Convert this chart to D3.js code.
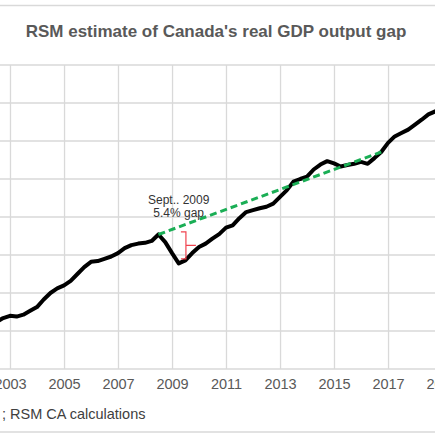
<!DOCTYPE html>
<html>
<head>
<meta charset="utf-8">
<script src="https://cdn.jsdelivr.net/npm/d3@7"></script>
<style>
  html, body { margin: 0; padding: 0; background: #fff; }
  svg { display: block; font-family: "Liberation Sans", Arial, sans-serif; }
</style>
</head>
<body>
<svg id="chart" width="435" height="435"></svg>
<script>
// Quarterly real GDP (C$ billions)
const quarters = [
  "2002Q3", "2002Q4",
  "2003Q1", "2003Q2", "2003Q3", "2003Q4",
  "2004Q1", "2004Q2", "2004Q3", "2004Q4",
  "2005Q1", "2005Q2", "2005Q3", "2005Q4",
  "2006Q1", "2006Q2", "2006Q3", "2006Q4",
  "2007Q1", "2007Q2", "2007Q3", "2007Q4",
  "2008Q1", "2008Q2", "2008Q3", "2008Q4",
  "2009Q1", "2009Q2", "2009Q3", "2009Q4",
  "2010Q1", "2010Q2", "2010Q3", "2010Q4",
  "2011Q1", "2011Q2", "2011Q3", "2011Q4",
  "2012Q1", "2012Q2", "2012Q3", "2012Q4",
  "2013Q1", "2013Q2", "2013Q3", "2013Q4",
  "2014Q1", "2014Q2", "2014Q3", "2014Q4",
  "2015Q1", "2015Q2", "2015Q3", "2015Q4",
  "2016Q1", "2016Q2", "2016Q3", "2016Q4",
  "2017Q1", "2017Q2", "2017Q3", "2017Q4",
  "2018Q1", "2018Q2", "2018Q3", "2018Q4"
];
const gdp = [
  1424, 1434,
  1440, 1438, 1443, 1453,
  1463, 1483, 1500, 1512,
  1520, 1532, 1550, 1568,
  1582, 1584, 1590, 1596,
  1605, 1618, 1626, 1630,
  1632, 1637, 1654, 1634,
  1605, 1578, 1586, 1605,
  1621, 1630, 1643, 1655,
  1672, 1678, 1697, 1713,
  1718, 1723, 1727, 1735,
  1753, 1770, 1793, 1800,
  1806, 1825, 1838, 1847,
  1841, 1833, 1837, 1840,
  1845, 1840, 1855, 1871,
  1895, 1912, 1921, 1930,
  1943, 1956, 1970, 1978
];

// pre-crisis trend (dashed green)
const trendQuarters = ["2008Q3", "2016Q4"];
const trendValues = [1654, 1871];

// gap bracket
const gapQuarter = "2009Q3";
const gapTop = 1661;
const gapBottom = 1590;
const gapLabel = ["Sept.. 2009", "5.4% gap"];

const yearTicks = [2003, 2005, 2007, 2009, 2011, 2013, 2015, 2017, 2019];
const yTicks = [1300, 1400, 1500, 1600, 1700, 1800, 1900, 2000, 2100];

const title = "RSM estimate of Canada's real GDP output gap";
const source = "; RSM CA calculations";

const W = 435, H = 435;
const svg = d3.select("#chart");

const parseQ = s => new Date(+s.slice(0, 4), (+s.slice(5) - 1) * 3, 1);

const x = d3.scaleTime()
  .domain([new Date(2003, 0, 1), new Date(2019, 0, 1)])
  .range([10, 442]);

const y = d3.scaleLinear()
  .domain([1300, 2100])
  .range([369, 65]);

const grid = "#d9d9d9";

// frame lines
svg.append("line")
  .attr("x1", 0).attr("x2", W).attr("y1", 5.5).attr("y2", 5.5)
  .attr("stroke", grid).attr("stroke-width", 1.5);
svg.append("line")
  .attr("x1", 0).attr("x2", W).attr("y1", 432).attr("y2", 432)
  .attr("stroke", grid).attr("stroke-width", 1.5);

svg.append("text")
  .attr("x", 216).attr("y", 36.5)
  .attr("text-anchor", "middle")
  .attr("font-size", 17).attr("font-weight", "bold")
  .attr("fill", "#595959")
  .text(title);

// horizontal gridlines
svg.append("g")
  .selectAll("line")
  .data(yTicks)
  .join("line")
  .attr("x1", 0).attr("x2", W)
  .attr("y1", d => y(d)).attr("y2", d => y(d))
  .attr("stroke", grid).attr("stroke-width", 1.3);

// x axis with vertical gridlines
const xAxis = svg.append("g")
  .attr("transform", `translate(0,${y(1300)})`)
  .call(d3.axisBottom(x)
    .tickValues(yearTicks.map(yr => new Date(yr, 0, 1)))
    .tickSize(-(y(1300) - y(2100)))
    .tickPadding(10)
    .tickFormat(d3.timeFormat("%Y")));
xAxis.select(".domain").remove();
xAxis.selectAll(".tick line").attr("stroke", grid).attr("stroke-width", 1.3);
xAxis.selectAll(".tick text")
  .attr("font-family", "Liberation Sans, Arial, sans-serif")
  .attr("font-size", 14.5).attr("fill", "#595959");

// GDP line
const line = d3.line()
  .x((d, i) => x(parseQ(quarters[i])))
  .y(d => y(d));

svg.append("path")
  .datum(gdp)
  .attr("d", line)
  .attr("fill", "none")
  .attr("stroke", "#000")
  .attr("stroke-width", 4)
  .attr("stroke-linejoin", "round")
  .attr("stroke-linecap", "round");

// trend line
svg.append("path")
  .datum(trendValues)
  .attr("d", d3.line()
    .x((d, i) => x(parseQ(trendQuarters[i])))
    .y(d => y(d)))
  .attr("fill", "none")
  .attr("stroke", "#1aae55")
  .attr("stroke-width", 3)
  .attr("stroke-dasharray", "7,4");

// gap bracket
const gx = x(parseQ(gapQuarter)) + 0.5;
const gt = y(gapTop), gb = y(gapBottom), gm = (gt + gb) / 2;
svg.append("path")
  .attr("d", `M${gx - 5},${gt} H${gx} V${gb} H${gx - 5} M${gx},${gm} H${gx + 10}`)
  .attr("fill", "none")
  .attr("stroke", "#f0434f")
  .attr("stroke-width", 1.2);

svg.append("g")
  .selectAll("text")
  .data(gapLabel)
  .join("text")
  .attr("x", x(parseQ("2009Q2")))
  .attr("y", (d, i) => gt - 28 + i * 13)
  .attr("text-anchor", "middle")
  .attr("font-size", 12)
  .attr("fill", "#333")
  .text(d => d);

svg.append("text")
  .attr("x", 2).attr("y", 419)
  .attr("font-size", 14.5)
  .attr("fill", "#404040")
  .text(source);
</script>
</body>
</html>
